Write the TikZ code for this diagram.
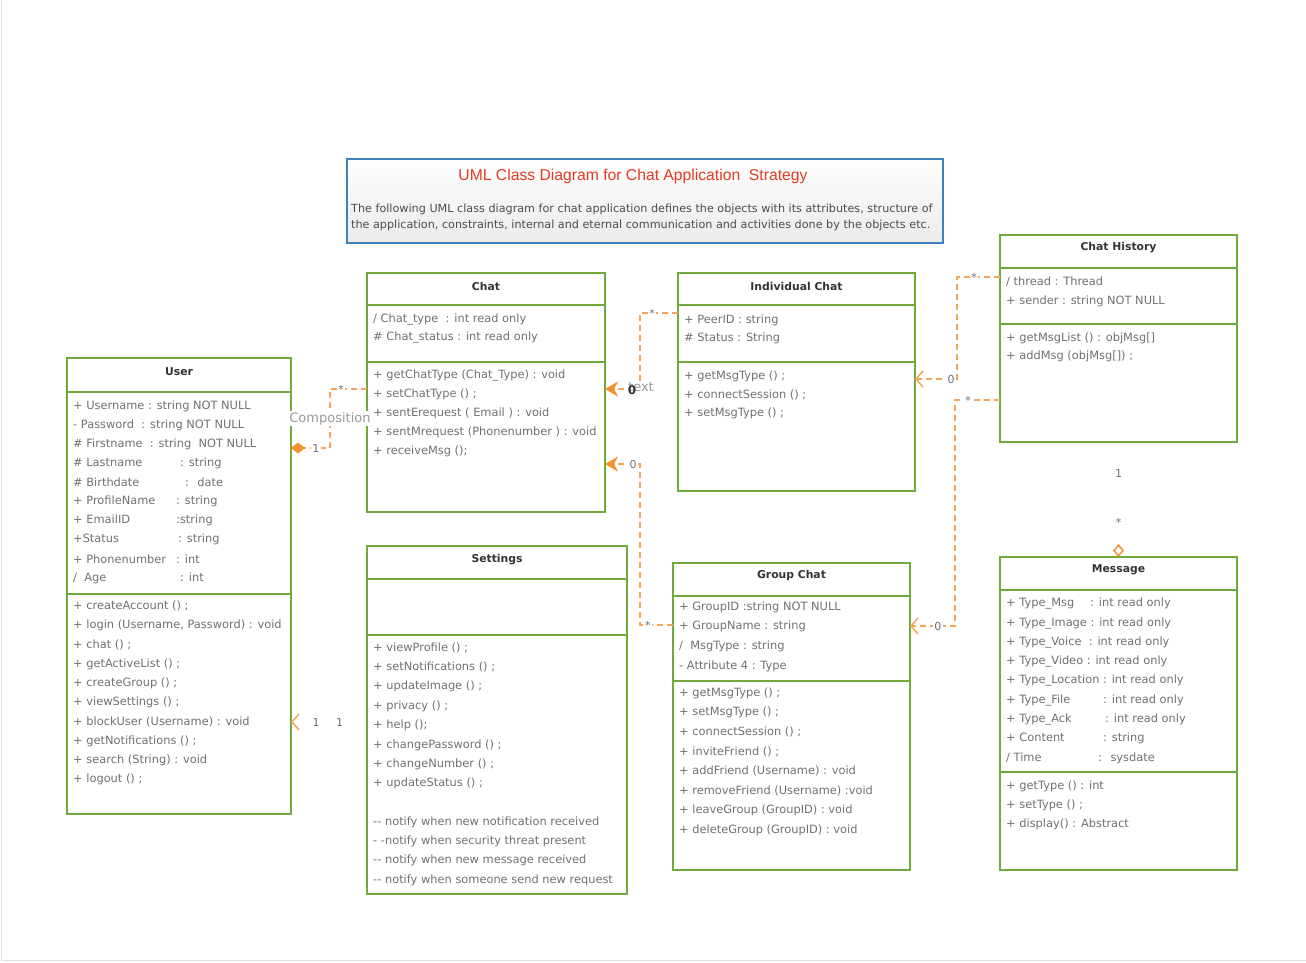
\documentclass[tikz,border=0pt]{standalone}
\usepackage{fontspec}
\setmainfont{DejaVu Sans}
\newfontfamily\arialfont{Liberation Sans}
\usetikzlibrary{arrows.meta}

\definecolor{umlgreen}{HTML}{6FAA3A}
\definecolor{linkorange}{HTML}{F7A55A}
\definecolor{tiporange}{HTML}{F39233}
\definecolor{titlered}{HTML}{E23B22}
\definecolor{frameblue}{HTML}{3E82B9}
\definecolor{txtgray}{HTML}{707070}

\newcommand{\pad}[2]{\makebox[#1][l]{#2}}

\begin{document}
\begin{tikzpicture}[x=1pt, y=-1pt,
  classbox/.style={draw=umlgreen, line width=2pt, anchor=north west, inner sep=0pt, outer sep=0pt},
  divider/.style={draw=umlgreen, line width=2pt},
  classname/.style={font=\fontsize{10.8}{12}\selectfont\bfseries, text=black!80},
  member/.style={anchor=west, inner sep=0pt, font=\fontsize{11.4}{12}\selectfont, text=txtgray},
  link/.style={draw=linkorange, line width=1.5pt, dash pattern=on 6pt off 4pt},
  hiddenlink/.style={draw=linkorange, line width=1.5pt, dash pattern=on 0pt off 2000pt},
  filledtip/.style={-{Stealth[length=13pt, width=15pt, inset=4pt, fill=tiporange, color=tiporange]}},
  opentip/.style={-{Straight Barb[length=7pt, width=16pt, color=linkorange]}},
  mult/.style={fill=white, inner sep=1.5pt, font=\fontsize{11}{12}\selectfont, text=txtgray},
  bigtag/.style={fill=white, inner sep=1pt, font=\fontsize{13}{14}\selectfont, text=gray!80}
]
\useasboundingbox (0,0) rectangle (1306,962);
\draw[black!12] (1,0) -- (1,960) -- (1306,960);

% Title
\node[draw=frameblue, line width=2pt, top color=white, bottom color=black!8,
      minimum width=596pt, minimum height=84pt, inner sep=0pt] (title) at (645,201) {};
\node[font=\arialfont\fontsize{15.7}{16}\selectfont, text=titlered] (titletext) at (633,176)
  {UML Class Diagram for Chat Application~ Strategy};
\node[anchor=north west, align=left, inner sep=0pt, font=\fontsize{11.2}{16}\selectfont, text=black!70] (desc) at (351,204)
  {The following UML class diagram for chat application defines the objects with its attributes, structure of\\
   the application, constraints, internal and eternal communication and activities done by the objects etc.};

% User
\node[classbox, minimum width=224pt, minimum height=456pt] (user) at (67,358) {};
\draw[divider] (user.west |- 0,392) -- (user.east |- 0,392);
\draw[divider] (user.west |- 0,594) -- (user.east |- 0,594);
\node[classname] (usertitle) at (user.north |- 0,372) {User};
\foreach \m [count=\i] in {{+ Username : string NOT NULL}, {- Password~ : string NOT NULL},
    {\# Firstname~ : string~ NOT NULL}, {\pad{107pt}{\# Lastname}: string},
    {\pad{112pt}{\# Birthdate}:~ date}, {\pad{103pt}{+ ProfileName}: string},
    {\pad{103pt}{+ EmailID}:string}, {\pad{105pt}{+Status}: string},
    {\pad{103pt}{+ Phonenumber}: int}, {\pad{107pt}{/~ Age}: int}}
  \node[member] (userA\i) at (73,{406+19.1*(\i-1)}) {\m};
\foreach \m [count=\i] in {{+ createAccount () ;}, {+ login (Username, Password) : void},
    {+ chat () ;}, {+ getActiveList () ;}, {+ createGroup () ;}, {+ viewSettings () ;},
    {+ blockUser (Username) : void}, {+ getNotifications () ;}, {+ search (String) : void},
    {+ logout () ;}}
  \node[member] (userM\i) at (73,{606+19.3*(\i-1)}) {\m};

% Chat
\node[classbox, minimum width=238pt, minimum height=239pt] (chat) at (367,273) {};
\draw[divider] (chat.west |- 0,305) -- (chat.east |- 0,305);
\draw[divider] (chat.west |- 0,362) -- (chat.east |- 0,362);
\node[classname] (chattitle) at (chat.north |- 0,286) {Chat};
\foreach \m [count=\i] in {{/ Chat\_type~ : int read only}, {\# Chat\_status : int read only}}
  \node[member] (chatA\i) at (373,{320+18*(\i-1)}) {\m};
\foreach \m [count=\i] in {{+ getChatType (Chat\_Type) : void}, {+ setChatType () ;},
    {+ sentErequest ( Email ) : void}, {+ sentMrequest (Phonenumber ) : void}, {+ receiveMsg ();}}
  \node[member] (chatM\i) at (373,{376+18.75*(\i-1)}) {\m};

% Individual Chat
\node[classbox, minimum width=237pt, minimum height=218pt] (ichat) at (678,273) {};
\draw[divider] (ichat.west |- 0,305) -- (ichat.east |- 0,305);
\draw[divider] (ichat.west |- 0,362) -- (ichat.east |- 0,362);
\node[classname] (ichattitle) at (ichat.north |- 0,286) {Individual Chat};
\foreach \m [count=\i] in {{+ PeerID : string}, {\# Status : String}}
  \node[member] (ichatA\i) at (684,{320+18*(\i-1)}) {\m};
\foreach \m [count=\i] in {{+ getMsgType () ;}, {+ connectSession () ;}, {+ setMsgType () ;}}
  \node[member] (ichatM\i) at (684,{376+18.5*(\i-1)}) {\m};

% Chat History
\node[classbox, minimum width=237pt, minimum height=207pt] (chist) at (1000,235) {};
\draw[divider] (chist.west |- 0,268) -- (chist.east |- 0,268);
\draw[divider] (chist.west |- 0,324) -- (chist.east |- 0,324);
\node[classname] (chisttitle) at (chist.north |- 0,248) {Chat History};
\foreach \m [count=\i] in {{/ thread : Thread}, {+ sender : string NOT NULL}}
  \node[member] (chistA\i) at (1006,{282+19*(\i-1)}) {\m};
\foreach \m [count=\i] in {{+ getMsgList () : objMsg[]}, {+ addMsg (objMsg[]) ;}}
  \node[member] (chistM\i) at (1006,{338+18*(\i-1)}) {\m};

% Settings
\node[classbox, minimum width=260pt, minimum height=348pt] (settings) at (367,546) {};
\draw[divider] (settings.west |- 0,579) -- (settings.east |- 0,579);
\draw[divider] (settings.west |- 0,635) -- (settings.east |- 0,635);
\node[classname] (settingstitle) at (settings.north |- 0,560) {Settings};
\foreach \m [count=\i] in {{+ viewProfile () ;}, {+ setNotifications () ;}, {+ updateImage () ;},
    {+ privacy () ;}, {+ help ();}, {+ changePassword () ;}, {+ changeNumber () ;}, {+ updateStatus () ;}}
  \node[member] (settingsM\i) at (373,{648+19.4*(\i-1)}) {\m};
\foreach \m [count=\i] in {{-{}- notify when new notification received}, {- -notify when security threat present},
    {-{}- notify when new message received}, {-{}- notify when someone send new request}}
  \node[member] (settingsN\i) at (373,{822+19.3*(\i-1)}) {\m};

% Group Chat
\node[classbox, minimum width=237pt, minimum height=307pt] (gchat) at (673,563) {};
\draw[divider] (gchat.west |- 0,596) -- (gchat.east |- 0,596);
\draw[divider] (gchat.west |- 0,681) -- (gchat.east |- 0,681);
\node[classname] (gchattitle) at (gchat.north |- 0,576) {Group Chat};
\foreach \m [count=\i] in {{+ GroupID :string NOT NULL}, {+ GroupName : string},
    {/~ MsgType : string}, {- Attribute 4 : Type}}
  \node[member] (gchatA\i) at (679,{607+19.7*(\i-1)}) {\m};
\foreach \m [count=\i] in {{+ getMsgType () ;}, {+ setMsgType () ;}, {+ connectSession () ;},
    {+ inviteFriend () ;}, {+ addFriend (Username) : void}, {+ removeFriend (Username) :void},
    {+ leaveGroup (GroupID) : void}, {+ deleteGroup (GroupID) : void}}
  \node[member] (gchatM\i) at (679,{693+19.57*(\i-1)}) {\m};

% Message
\node[classbox, minimum width=237pt, minimum height=313pt] (msg) at (1000,557) {};
\draw[divider] (msg.west |- 0,590) -- (msg.east |- 0,590);
\draw[divider] (msg.west |- 0,772) -- (msg.east |- 0,772);
\node[classname] (msgtitle) at (msg.north |- 0,570) {Message};
\foreach \m [count=\i] in {{\pad{84pt}{+ Type\_Msg}: int read only}, {+ Type\_Image : int read only},
    {+ Type\_Voice~ : int read only}, {+ Type\_Video : int read only}, {+ Type\_Location : int read only},
    {\pad{97pt}{+ Type\_File}: int read only}, {\pad{99pt}{+ Type\_Ack}: int read only},
    {\pad{97pt}{+ Content}: string}, {\pad{92pt}{/ Time}:~ sysdate}}
  \node[member] (msgA\i) at (1006,{604+19.25*(\i-1)}) {\m};
\foreach \m [count=\i] in {{+ getType () : int}, {+ setType () ;}, {+ display() : Abstract}}
  \node[member] (msgM\i) at (1006,{786+19*(\i-1)}) {\m};

% Connectors
\draw[link, -{Diamond[length=14pt, width=11pt, fill=tiporange, color=tiporange]}]
  (chat.west |- 0,389) -- node[mult, pos=0.7]{*} (330,389)
  -- node[bigtag]{Composition} (330,448) -- node[mult, pos=0.36]{1} (user.east |- 0,448);
\draw[hiddenlink, opentip] (settings.west |- 0,722)
  -- node[mult, pos=0.36]{1} node[mult, pos=0.67]{1} (user.east |- 0,722);
\draw[link, filledtip] (ichat.west |- 0,313) -- node[mult, pos=0.68]{*} (640,313)
  -- (640,389) -- (chat.east |- 0,389);
\node[bigtag] (texttag) at (641,387) {text};
\node[font=\fontsize{12}{12}\selectfont\bfseries, text=black!80, inner sep=0pt] (zerotag) at (632,390) {0};
\draw[link, filledtip] (gchat.west |- 0,625) -- node[mult, pos=0.76]{*} (640,625)
  -- (640,464) -- node[mult, pos=0.2]{0} (chat.east |- 0,464);
\draw[link, opentip] (chist.west |- 0,277) -- node[mult, pos=0.6]{*} (957,277)
  -- (957,379) -- node[mult, pos=0.14]{0} (ichat.east |- 0,379);
\draw[link, opentip] (chist.west |- 0,400) -- node[mult, pos=0.71]{*} (955,400)
  -- (955,626) -- node[mult, pos=0.38]{0} (gchat.east |- 0,626);
\draw[hiddenlink, -{Diamond[open, length=13pt, width=11pt, color=tiporange]}] (chist.south)
  -- node[mult, pos=0.27]{1} node[mult, pos=0.7]{*} (msg.north);

\end{tikzpicture}
\end{document}
